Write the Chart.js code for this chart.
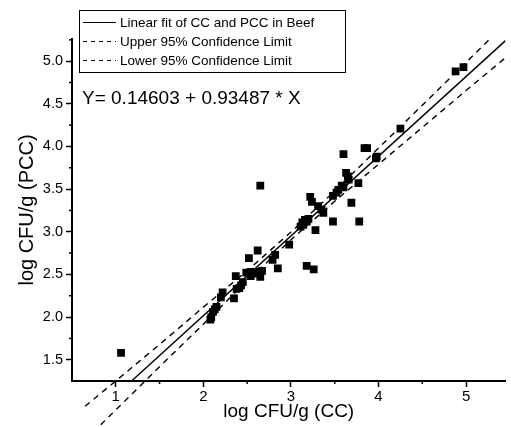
<!DOCTYPE html>
<html>
<head>
<meta charset="utf-8">
<script src="https://cdn.jsdelivr.net/npm/chart.js@4"></script>
<style>
  html, body { margin: 0; padding: 0; background: #fff; }
  #wrap { width: 511px; height: 427px; }
</style>
</head>
<body>
<div id="wrap"><canvas id="fitChart" width="511" height="427"></canvas></div>
<script>
// values
const cc = [1.06, 2.08, 2.09, 2.11, 2.13, 2.15, 2.20, 2.22, 2.35, 2.37, 2.38, 2.41, 2.43, 2.45, 2.49,
  2.52, 2.54, 2.54, 2.58, 2.62, 2.63, 2.65, 2.65, 2.67, 2.79, 2.82, 2.85, 2.98, 3.11, 3.13,
  3.14, 3.16, 3.18, 3.20, 3.18, 3.26, 3.22, 3.24, 3.28, 3.31, 3.35, 3.37, 3.48, 3.48, 3.52,
  3.54, 3.58, 3.60, 3.60, 3.63, 3.65, 3.66, 3.69, 3.77, 3.78, 3.84, 3.87, 3.97, 3.98, 4.25,
  4.88, 4.97];
const pcc = [1.58, 1.97, 2.00, 2.06, 2.09, 2.12, 2.23, 2.29, 2.22, 2.48, 2.33, 2.34, 2.37, 2.41, 2.52,
  2.69, 2.53, 2.48, 2.51, 2.78, 2.53, 2.47, 3.54, 2.54, 2.67, 2.73, 2.57, 2.85, 3.06, 3.11,
  3.08, 3.14, 3.12, 3.15, 2.60, 2.56, 3.41, 3.35, 3.02, 3.30, 3.26, 3.22, 3.12, 3.42, 3.46,
  3.49, 3.54, 3.91, 3.52, 3.69, 3.65, 3.61, 3.34, 3.57, 3.12, 3.98, 3.98, 3.86, 3.88, 4.21,
  4.88, 4.93];

// Y = 0.14603 + 0.93487 * X, end points
const fitX = [0.65, 5.45];
const fitY = [0.754, 5.241];

// 95% confidence limits
const limitX = [0.65, 1, 1.5, 2, 2.5, 3, 3.5, 4, 4.5, 5, 5.45];
const upperY = [0.954, 1.251, 1.678, 2.116, 2.543, 2.996, 3.478, 3.981, 4.483, 4.986, 5.441];
const lowerY = [0.554, 0.911, 1.418, 1.916, 2.423, 2.906, 3.358, 3.791, 4.223, 4.656, 5.041];

const xTicks = [1, 2, 3, 4, 5];
const yTicks = [1.5, 2.0, 2.5, 3.0, 3.5, 4.0, 4.5, 5.0];
const xMinor = [1.5, 2.5, 3.5, 4.5];
const yMinor = [1.75, 2.25, 2.75, 3.25, 3.75, 4.25, 4.75, 5.25];

const equation = 'Y= 0.14603 + 0.93487 * X';
const FONT = '"Liberation Sans", Arial, sans-serif';

const pairs = (xs, ys) => xs.map((x, i) => ({ x: x, y: ys[i] }));

// minor ticks, equation and the boxed legend
const extras = {
  id: 'extras',
  afterDraw(chart) {
    const ctx = chart.ctx;
    const xs = chart.scales.x, ys = chart.scales.y;
    ctx.save();
    ctx.strokeStyle = '#000';
    ctx.lineWidth = 1.5;
    xMinor.forEach(v => {
      const px = xs.getPixelForValue(v);
      ctx.beginPath(); ctx.moveTo(px, xs.top); ctx.lineTo(px, xs.top + 3); ctx.stroke();
    });
    yMinor.forEach(v => {
      const py = ys.getPixelForValue(v);
      ctx.beginPath(); ctx.moveTo(ys.right, py); ctx.lineTo(ys.right - 3, py); ctx.stroke();
    });

    ctx.fillStyle = '#000';
    ctx.font = '19px ' + FONT;
    ctx.textBaseline = 'middle';
    ctx.fillText(equation, 82, 99);

    // legend
    ctx.fillStyle = '#fff';
    ctx.fillRect(79.5, 10.5, 266, 62);
    ctx.lineWidth = 1;
    ctx.strokeStyle = '#000';
    ctx.strokeRect(79.5, 10.5, 266, 62);
    ctx.font = '13.5px ' + FONT;
    chart.data.datasets.slice(1).forEach((ds, i) => {
      const y = 22.5 + i * 19;
      ctx.beginPath();
      ctx.setLineDash(ds.borderDash ? [4, 4] : []);
      ctx.lineWidth = 1;
      ctx.moveTo(83, y); ctx.lineTo(116, y); ctx.stroke();
      ctx.setLineDash([]);
      ctx.fillStyle = '#000';
      ctx.fillText(ds.label, 120, y + 0.5);
    });
    ctx.restore();
  }
};

new Chart(document.getElementById('fitChart'), {
  type: 'scatter',
  data: {
    datasets: [
      {
        label: 'Beef',
        data: pairs(cc, pcc),
        pointStyle: 'rect',
        pointRadius: 5.5,
        backgroundColor: '#000',
        borderWidth: 0
      },
      {
        label: 'Linear fit of CC and PCC in Beef',
        data: pairs(fitX, fitY),
        showLine: true,
        pointRadius: 0,
        borderColor: '#000',
        borderWidth: 1.4
      },
      {
        label: 'Upper 95% Confidence Limit',
        data: pairs(limitX, upperY),
        showLine: true,
        pointRadius: 0,
        borderColor: '#000',
        borderWidth: 1.4,
        borderDash: [6, 5],
        clip: { left: false, top: 0, right: 0, bottom: false }
      },
      {
        label: 'Lower 95% Confidence Limit',
        data: pairs(limitX, lowerY),
        showLine: true,
        pointRadius: 0,
        borderColor: '#000',
        borderWidth: 1.4,
        borderDash: [6, 5],
        clip: { left: false, top: 0, right: 0, bottom: false }
      }
    ]
  },
  options: {
    responsive: false,
    animation: false,
    layout: { padding: { top: 39, right: 0, left: 0, bottom: 0 } },
    plugins: { legend: { display: false }, tooltip: { enabled: false } },
    scales: {
      x: {
        type: 'linear',
        min: 0.5,
        max: 5.45,
        afterBuildTicks: s => { s.ticks = xTicks.map(v => ({ value: v })); },
        afterFit: s => { s.height = 46; s.paddingLeft = 0; s.paddingRight = 0; },
        border: { color: '#000', width: 2 },
        grid: { drawOnChartArea: false, tickLength: 6, tickColor: '#000', tickWidth: 1.5 },
        ticks: { color: '#000', padding: 1, font: { family: FONT, size: 15 }, callback: v => String(v) },
        title: { display: true, text: 'log CFU/g (CC)', color: '#000', font: { family: FONT, size: 19 }, padding: { top: 0, bottom: 4 } }
      },
      y: {
        type: 'linear',
        min: 1.25,
        max: 5.26,
        afterBuildTicks: s => { s.ticks = yTicks.map(v => ({ value: v })); },
        afterFit: s => { s.width = 72; s.paddingTop = 0; s.paddingBottom = 0; },
        border: { color: '#000', width: 2 },
        grid: { drawOnChartArea: false, tickLength: 6, tickColor: '#000', tickWidth: 1.5 },
        ticks: { color: '#000', padding: 3, font: { family: FONT, size: 14.5 }, callback: v => v.toFixed(1) },
        title: { display: true, text: 'log CFU/g (PCC)', color: '#000', font: { family: FONT, size: 20 }, padding: { top: 15, bottom: 0 } }
      }
    }
  },
  plugins: [extras]
});
</script>
</body>
</html>
